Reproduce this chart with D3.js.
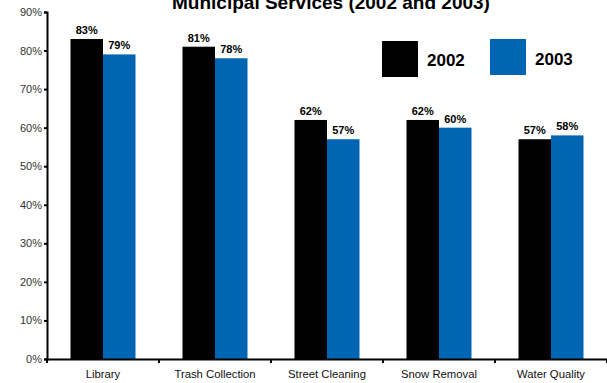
<!DOCTYPE html>
<html>
<head>
<meta charset="utf-8">
<script src="https://cdn.jsdelivr.net/npm/d3@7"></script>
<style>
  body { margin: 0; background: #fff; }
  text { font-family: "Liberation Sans", Arial, sans-serif; }
</style>
</head>
<body>
<div id="chart"></div>
<script>
var categories = ['Library', 'Trash Collection', 'Street Cleaning', 'Snow Removal', 'Water Quality'];
var years = ['2002', '2003'];
var values2002 = [83, 81, 62, 62, 57];
var values2003 = [79, 78, 57, 60, 58];
var yTicks = [0, 10, 20, 30, 40, 50, 60, 70, 80, 90];
var colors = ['#000000', '#0066b3'];

var width = 607, height = 383;
var margin = {top: 12, right: 0, bottom: 24, left: 47};

var svg = d3.select('#chart').append('svg')
  .attr('width', width)
  .attr('height', height);

var x = d3.scaleBand()
  .domain(categories)
  .range([margin.left, width - margin.right]);

var y = d3.scaleLinear()
  .domain([0, 90])
  .range([height - margin.bottom, margin.top]);

var barW = 32.5;

// build rows from the arrays
var data = categories.map(function(c, i) {
  return {cat: c, vals: [values2002[i], values2003[i]]};
});

var groups = svg.selectAll('.grp')
  .data(data)
  .enter().append('g')
  .attr('class', 'grp')
  .attr('transform', function(d) { return 'translate(' + (x(d.cat) + x.bandwidth() / 2 - barW) + ',0)'; });

groups.selectAll('rect')
  .data(function(d) { return d.vals; })
  .enter().append('rect')
  .attr('x', function(d, i) { return i * barW; })
  .attr('y', function(d) { return y(d); })
  .attr('width', barW)
  .attr('height', function(d) { return y(0) - y(d); })
  .style('fill', function(d, i) { return colors[i]; });

groups.selectAll('.val')
  .data(function(d) { return d.vals; })
  .enter().append('text')
  .attr('class', 'val')
  .attr('x', function(d, i) { return i * barW + barW / 2; })
  .attr('y', function(d) { return y(d) - 5; })
  .attr('text-anchor', 'middle')
  .style('font-size', '11px')
  .style('font-weight', 'bold')
  .text(function(d) { return d + '%'; });

// y axis
var yAxis = d3.axisLeft(y)
  .tickValues(yTicks)
  .tickSize(3)
  .tickFormat(function(d) { return d + '%'; });

var gy = svg.append('g')
  .attr('transform', 'translate(' + margin.left + ',0)')
  .call(yAxis);
gy.select('.domain').attr('stroke-width', 2);
gy.selectAll('.tick line').attr('stroke-width', 2);
gy.selectAll('.tick text')
  .attr('x', -5)
  .style('font-size', '11px')
  .style('fill', '#333');

// x axis
var xAxis = d3.axisBottom(x).tickSize(0);
var gx = svg.append('g')
  .attr('transform', 'translate(0,' + y(0) + ')')
  .call(xAxis);
gx.select('.domain').attr('stroke-width', 2);
gx.selectAll('.tick text')
  .attr('dy', 0)
  .attr('y', 19)
  .style('font-size', '11.3px')
  .style('fill', '#111');

// band boundary ticks
gx.selectAll('.bound')
  .data(categories.concat(['end']))
  .enter().append('line')
  .attr('class', 'bound')
  .attr('x1', function(d, i) { return margin.left + i * x.step(); })
  .attr('x2', function(d, i) { return margin.left + i * x.step(); })
  .attr('y1', 0)
  .attr('y2', 4)
  .attr('stroke', '#000')
  .attr('stroke-width', 2);

// title (cut by the top edge, as in the original)
svg.append('text')
  .attr('x', 331)
  .attr('y', 9)
  .attr('text-anchor', 'middle')
  .style('font-size', '19px')
  .style('font-weight', 'bold')
  .text('Municipal Services (2002 and 2003)');

// legend
var legX = [382, 490];
var legY = [41, 39];
var leg = svg.selectAll('.leg')
  .data(years)
  .enter().append('g')
  .attr('class', 'leg')
  .attr('transform', function(d, i) { return 'translate(' + legX[i] + ',' + legY[i] + ')'; });

leg.append('rect')
  .attr('width', 36)
  .attr('height', 36)
  .style('fill', function(d, i) { return colors[i]; });

leg.append('text')
  .attr('x', 45)
  .attr('y', function(d, i) { return 25 + i; })
  .style('font-size', '17px')
  .style('font-weight', 'bold')
  .text(function(d) { return d; });
</script>
</body>
</html>
